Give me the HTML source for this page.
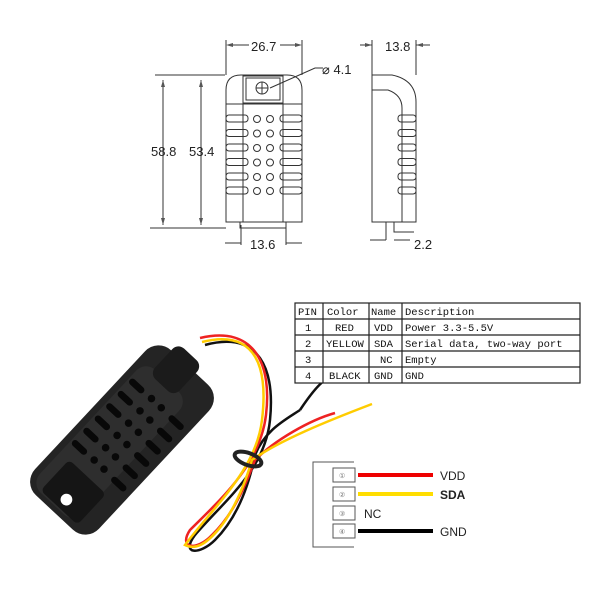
<!DOCTYPE html><html><head><style>body{margin:0;background:#fff}svg{display:block}</style></head><body>
<svg width="600" height="600" viewBox="0 0 600 600" xmlns="http://www.w3.org/2000/svg" font-family="Liberation Sans, sans-serif">
<rect width="600" height="600" fill="#fff"/>
<g stroke="#333" fill="none" stroke-width="1">
<path d="M226 90 Q226 75 241 75 L287 75 Q302 75 302 90 L302 222 L226 222 Z"/>
<rect x="243" y="76" width="40" height="27"/><rect x="246" y="78" width="34" height="22"/>
<circle cx="262" cy="88" r="6"/><path d="M256 88h12M262 82v12"/>
<path d="M226 104h76M243 104v118M283 104v118M240 222v6h46v-6"/>
<path d="M226 40v35M302 40v35M229 45h20M300 45h-20"/>
<path d="M155 75h70M150 228h76M163 80v145M201 80v145"/>
<path d="M241 225v20M286 225v20M225 243h16M302 243h-16"/>
<path d="M270 88l45 -20h8"/>
<path d="M372 75 L392 75 Q416 80 416 102 L416 222 L372 222 Z"/>
<path d="M372 90 L388 90 Q402 95 402 108 L402 222"/>
<path d="M372 40v35M416 40v35M360 45h12M430 45h-14"/>
<path d="M386 222v18M394 222v10h20M386 240h-16M394 240h16"/>
</g>
<g fill="#555">
<polygon points="226,45 233,43 233,47"/><polygon points="302,45 295,43 295,47"/>
<polygon points="163,80 161,87 165,87"/><polygon points="163,225 161,218 165,218"/>
<polygon points="201,80 199,87 203,87"/><polygon points="201,225 199,218 203,218"/>
<polygon points="372,45 365,43 365,47"/><polygon points="416,45 423,43 423,47"/>
</g>
<g stroke="#333" fill="none">
<g id="r"><rect x="226" y="115" width="22" height="7" rx="3"/><rect x="280" y="115" width="22" height="7" rx="3"/><circle cx="257" cy="119" r="3.5"/><circle cx="270" cy="119" r="3.5"/><rect x="398" y="115" width="18" height="7" rx="3"/></g>
<use href="#r" y="14.5"/><use href="#r" y="29"/><use href="#r" y="43.5"/><use href="#r" y="58"/><use href="#r" y="72"/>
</g>
<g font-size="13" fill="#222">
<text x="251" y="51">26.7</text><text x="385" y="51">13.8</text>
<text x="322" y="74">⌀ 4.1</text>
<text x="151" y="156">58.8</text><text x="189" y="156">53.4</text>
<text x="250" y="249">13.6</text><text x="414" y="249">2.2</text>
</g>
<g fill="none" stroke-width="2.5">
<path d="M205 345 C260 330 275 370 270 420 C265 470 225 500 195 535 C180 555 200 555 215 540 C240 515 250 480 255 455 C265 430 285 420 300 410" stroke="#111"/>
<path d="M200 338 C255 325 272 365 266 415 C260 465 220 500 190 530 C178 548 196 552 212 535 C236 512 248 478 255 460 C275 440 310 420 335 413" stroke="#e22"/>
<path d="M202 342 C258 328 268 370 262 420 C256 470 215 505 185 545 C195 550 205 545 218 530 C235 510 246 480 252 460 C280 440 330 420 372 404" stroke="#fc0"/>
<path d="M300 410 C310 395 318 385 325 380" stroke="#111"/>
<ellipse cx="248" cy="459" rx="14" ry="6" transform="rotate(20 248 459)" stroke="#222" stroke-width="4"/>
</g>
<g transform="translate(122,440) rotate(-47) scale(0.84)">
<rect x="-118" y="-52" width="236" height="104" rx="22" fill="#242424"/>
<rect x="-112" y="-44" width="200" height="70" rx="16" fill="#2e2e2e"/>
<rect x="80" y="-30" width="50" height="40" rx="10" fill="#1b1b1b"/>
<rect x="-110" y="-30" width="50" height="60" rx="6" fill="#151515"/>
<circle cx="-97" cy="0" r="7" fill="#fff"/>
<g fill="#080808">
<rect x="-45" y="-42" width="8" height="22" rx="4"/><rect x="-25" y="-42" width="8" height="22" rx="4"/><rect x="-5" y="-42" width="8" height="22" rx="4"/><rect x="15" y="-42" width="8" height="22" rx="4"/><rect x="35" y="-42" width="8" height="22" rx="4"/><rect x="55" y="-42" width="8" height="22" rx="4"/>
<rect x="-45" y="22" width="8" height="22" rx="4"/><rect x="-25" y="22" width="8" height="22" rx="4"/><rect x="-5" y="22" width="8" height="22" rx="4"/><rect x="15" y="22" width="8" height="22" rx="4"/><rect x="35" y="22" width="8" height="22" rx="4"/><rect x="55" y="22" width="8" height="22" rx="4"/>
<circle cx="-40" cy="-8" r="4.5"/><circle cx="-40" cy="8" r="4.5"/><circle cx="-20" cy="-8" r="4.5"/><circle cx="-20" cy="8" r="4.5"/><circle cx="0" cy="-8" r="4.5"/><circle cx="0" cy="8" r="4.5"/><circle cx="20" cy="-8" r="4.5"/><circle cx="20" cy="8" r="4.5"/><circle cx="40" cy="-8" r="4.5"/><circle cx="40" cy="8" r="4.5"/><circle cx="60" cy="-8" r="4.5"/><circle cx="60" cy="8" r="4.5"/>
</g></g>
<g stroke="#222" fill="none" stroke-width="1.2">
<rect x="295" y="303" width="285" height="80" fill="#fff"/>
<path d="M295 319h285M295 335h285M295 351h285M295 367h285M323 303v80M369 303v80M402 303v80"/>
</g>
<g font-family="Liberation Mono, monospace" font-size="10.5" fill="#111">
<text x="298" y="315">PIN</text><text x="327" y="315">Color</text><text x="371" y="315">Name</text><text x="405" y="315">Description</text>
<text x="305" y="331">1</text><text x="335" y="331">RED</text><text x="374" y="331">VDD</text><text x="405" y="331">Power 3.3-5.5V</text>
<text x="305" y="347">2</text><text x="326" y="347">YELLOW</text><text x="374" y="347">SDA</text><text x="405" y="347">Serial data, two-way port</text>
<text x="305" y="363">3</text><text x="380" y="363">NC</text><text x="405" y="363">Empty</text>
<text x="305" y="379">4</text><text x="329" y="379">BLACK</text><text x="374" y="379">GND</text><text x="405" y="379">GND</text>
</g>
<g stroke="#555" fill="none">
<path d="M354 462h-41v85h41"/>
<rect x="333" y="468" width="22" height="14"/><rect x="333" y="487" width="22" height="14"/><rect x="333" y="506" width="22" height="14"/><rect x="333" y="524" width="22" height="14"/>
</g>
<g stroke-width="4"><path d="M358 475h75" stroke="#e00"/><path d="M358 494h75" stroke="#fd0"/><path d="M358 531h75" stroke="#000"/></g>
<g font-size="12" fill="#222"><text x="440" y="480">VDD</text><text x="440" y="499" font-weight="bold">SDA</text><text x="364" y="518">NC</text><text x="440" y="536">GND</text></g>
<g font-size="7" fill="#777"><text x="339" y="478">①</text><text x="339" y="497">②</text><text x="339" y="516">③</text><text x="339" y="534">④</text></g>
</svg>
</body></html>
